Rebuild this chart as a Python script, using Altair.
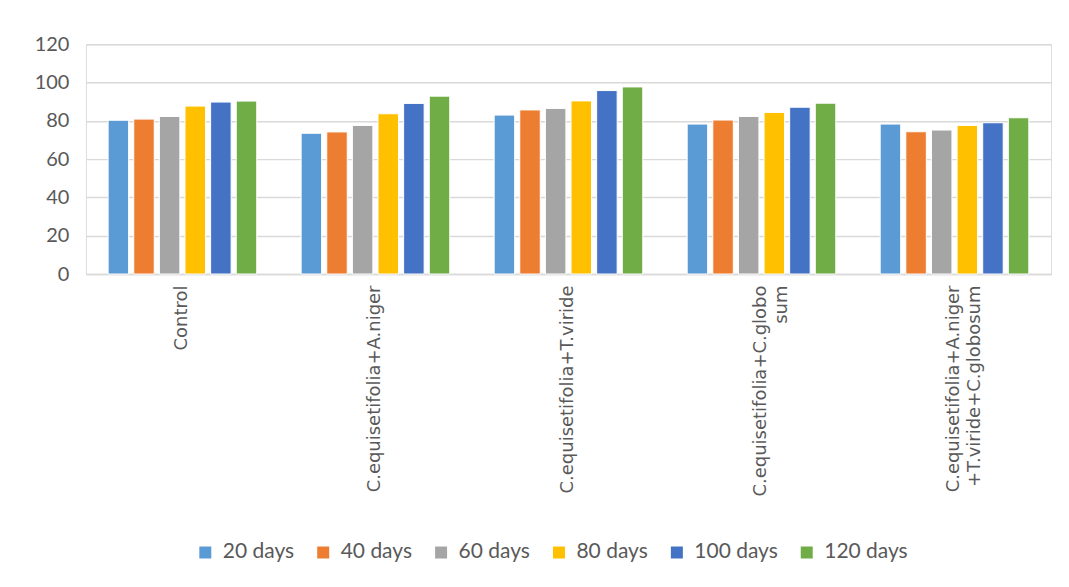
import altair as alt
import pandas as pd

treatments = [
    "Control",
    "C.equisetifolia+A.niger",
    "C.equisetifolia+T.viride",
    "C.equisetifolia+C.globo\nsum",
    "C.equisetifolia+A.niger\n+T.viride+C.globosum",
]
periods = ["20 days", "40 days", "60 days", "80 days", "100 days", "120 days"]
colors = ["#5B9BD5", "#ED7D31", "#A5A5A5", "#FFC000", "#4472C4", "#70AD47"]

values = {
    "20 days": [80.3, 73.5, 83.0, 78.3, 78.3],
    "40 days": [80.9, 74.2, 85.7, 80.4, 74.3],
    "60 days": [82.3, 77.6, 86.5, 82.3, 75.2],
    "80 days": [87.7, 83.7, 90.4, 84.4, 77.6],
    "100 days": [89.8, 89.1, 95.8, 87.1, 79.0],
    "120 days": [90.3, 92.9, 97.7, 89.2, 81.6],
}

rows = []
for p in periods:
    for t, v in zip(treatments, values[p]):
        rows.append({"treatment": t, "period": p, "value": v})
df = pd.DataFrame(rows)

font = "Lato"
grey = "#595959"

chart = alt.Chart(df).mark_bar(stroke="white", strokeWidth=1).encode(
    x=alt.X("treatment:N", sort=treatments, title=None,
            scale=alt.Scale(paddingInner=0.23, paddingOuter=0.115),
            axis=alt.Axis(labelAngle=-90, labelAlign="right", labelBaseline="middle",
                          labelExpr="split(datum.label, '\\n')",
                          labelFont="DejaVu Sans", labelFontSize=18, labelColor=grey,
                          labelPadding=11, ticks=False, domain=True,
                          domainColor="#D9D9D9", domainWidth=1.5, labelLimit=400,
                          labelLineHeight=21)),
    xOffset=alt.XOffset("period:N", sort=periods, scale=alt.Scale(paddingInner=0.2)),
    y=alt.Y("value:Q", title=None,
            scale=alt.Scale(domain=[0, 120]),
            axis=alt.Axis(values=[0, 20, 40, 60, 80, 100, 120], ticks=False, domain=False,
                          labelFont=font, labelFontSize=20, labelColor=grey,
                          labelPadding=17, gridColor="#D9D9D9", gridWidth=1.5)),
    color=alt.Color("period:N", sort=periods,
                    scale=alt.Scale(domain=periods, range=colors),
                    legend=alt.Legend(title=None, orient="none", direction="horizontal",
                                      legendX=109, legendY=498, padding=0,
                                      symbolType="square", symbolSize=144,
                                      symbolStrokeWidth=0, labelOffset=7,
                                      labelFont=font, labelFontSize=21, labelColor=grey,
                                      columnPadding=18)),
).properties(
    width=966, height=230,
    padding={"left": 26, "top": 26, "right": 10, "bottom": 10},
).configure_view(stroke=None).configure(background="white")

chart.save("out.html", embed_options={"renderer": "svg", "actions": False})
